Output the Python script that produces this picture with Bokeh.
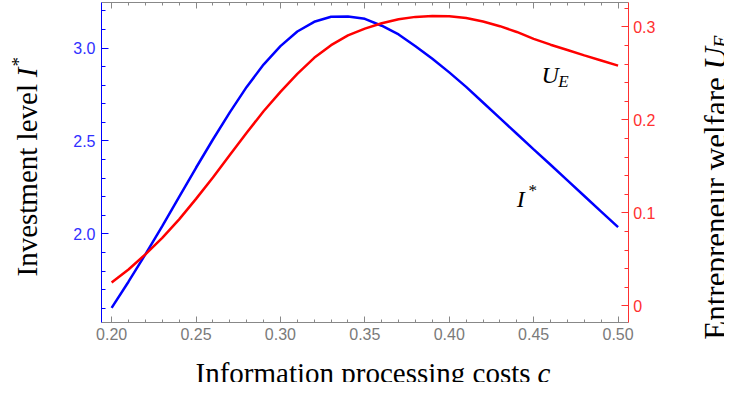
import math
from bokeh.plotting import figure
from bokeh.models import Range1d, LinearAxis, FixedTicker, NumeralTickFormatter, Label
from bokeh.embed import file_html
from bokeh.resources import INLINE

# ---------------- data ----------------
cost = [0.20, 0.21, 0.22, 0.23, 0.24, 0.25, 0.26, 0.27, 0.28, 0.29, 0.30,
        0.31, 0.32, 0.33, 0.34, 0.35, 0.36, 0.37, 0.38, 0.39, 0.40,
        0.41, 0.42, 0.43, 0.44, 0.45, 0.46, 0.47, 0.48, 0.49, 0.50]

investment = [1.602, 1.743, 1.890, 2.042, 2.199, 2.356, 2.508, 2.654, 2.791, 2.911, 3.010,
              3.089, 3.141, 3.168, 3.170, 3.157, 3.120, 3.073, 3.010, 2.942, 2.869,
              2.791, 2.707, 2.623, 2.539, 2.455, 2.372, 2.288, 2.204, 2.120, 2.037]

welfare = [0.0251, 0.0392, 0.0555, 0.0732, 0.0931, 0.1151, 0.1381, 0.1622, 0.1863, 0.2093, 0.2302,
           0.2496, 0.2668, 0.2804, 0.2909, 0.2982, 0.3040, 0.3082, 0.3108, 0.3118, 0.3115,
           0.3095, 0.3058, 0.3008, 0.2946, 0.2872, 0.2809, 0.2752, 0.2694, 0.2639, 0.2584]

x_ticks = [0.20, 0.25, 0.30, 0.35, 0.40, 0.45, 0.50]
x_tick_labels = ["0.20", "0.25", "0.30", "0.35", "0.40", "0.45", "0.50"]
inv_ticks = [2.0, 2.5, 3.0]
inv_tick_labels = ["2.0", "2.5", "3.0"]
wel_ticks = [0.0, 0.1, 0.2, 0.3]
wel_tick_labels = ["0", "0.1", "0.2", "0.3"]

x_minor = [round(0.20 + 0.01 * i, 2) for i in range(31)]
inv_minor = [round(1.6 + 0.1 * i, 1) for i in range(17)]
wel_minor = [round(0.02 * i, 2) for i in range(17)]

# plotted extents of the frame
X0, X1 = 0.194, 0.506
Y0, Y1 = 1.5236, 3.2476
U0, U1 = -0.0178, 0.3268

BLUE = "#0000ff"
RED = "#ff0000"
GRAY = "#888888"
SERIF = "Liberation Serif"
SANS = "Liberation Sans"

# ---------------- layout (canvas pixels) ----------------
W, H = 724, 382
FL, FR, FT, FB = 101.0, 627.7, 1.5, 322.0   # plot box on the canvas


def dx(px):   # canvas pixel -> x data
    return X0 + (px - FL) / (FR - FL) * (X1 - X0)


def dy(py):   # canvas pixel -> left-axis data
    return Y1 - (py - FT) / (FB - FT) * (Y1 - Y0)


def du(py):   # canvas pixel -> right-axis data
    return U1 - (py - FT) / (FB - FT) * (U1 - U0)


def fx(rx):   # reference-picture pixel -> canvas pixel
    return FL + (rx - 109.0) * (FR - FL) / (643.0 - 109.0)


def fy(ry):
    return FT + (ry - 2.7) * (FB - FT) / (332.0 - 2.7)


p = figure(width=W, height=H, output_backend="svg", toolbar_location=None,
           x_range=Range1d(dx(0), dx(W)), y_range=Range1d(dy(H), dy(0)),
           min_border=0, min_border_left=0, min_border_right=0,
           min_border_top=0, min_border_bottom=0,
           x_axis_type=None, y_axis_type=None, title=None)
p.extra_y_ranges = {"u": Range1d(du(H), du(0))}
p.outline_line_color = None
p.background_fill_color = "white"
p.border_fill_color = "#ffcccc"
p.xgrid.visible = False
p.ygrid.visible = False


def style_axis(ax, color, label_color, font_size="16px", standoff=6):
    ax.axis_line_color = color
    ax.axis_line_width = 1
    ax.major_tick_line_color = color
    ax.minor_tick_line_color = color
    ax.major_tick_in = 7
    ax.major_tick_out = 0
    ax.minor_tick_in = 4
    ax.minor_tick_out = 0
    ax.major_label_text_color = label_color
    ax.major_label_text_font = SANS
    ax.major_label_text_font_size = font_size
    ax.major_label_standoff = standoff
    ax.axis_label = None


xb = LinearAxis(ticker=FixedTicker(ticks=x_ticks, minor_ticks=x_minor),
                formatter=NumeralTickFormatter(format="0.00"),
                major_label_overrides=dict(zip(x_ticks, x_tick_labels)),
                fixed_location=Y0, bounds=(X0, X1))
style_axis(xb, GRAY, "#7a7a7a", standoff=5)
xb.major_tick_in = 6
xb.minor_tick_in = 3
p.add_layout(xb, "below")

xt = LinearAxis(ticker=FixedTicker(ticks=x_ticks, minor_ticks=x_minor),
                major_label_overrides={t: "" for t in x_ticks},
                fixed_location=Y1, bounds=(X0, X1))
style_axis(xt, GRAY, GRAY, font_size="0px", standoff=0)
xt.major_tick_in = 6
xt.minor_tick_in = 3
p.add_layout(xt, "above")

yl = LinearAxis(ticker=FixedTicker(ticks=inv_ticks, minor_ticks=inv_minor),
                formatter=NumeralTickFormatter(format="0.0"),
                major_label_overrides=dict(zip(inv_ticks, inv_tick_labels)),
                fixed_location=X0, bounds=(Y0, Y1))
style_axis(yl, BLUE, "#3030ff")
p.add_layout(yl, "left")

yr = LinearAxis(y_range_name="u", ticker=FixedTicker(ticks=wel_ticks, minor_ticks=wel_minor),
                formatter=NumeralTickFormatter(format="0.[0]"),
                major_label_overrides=dict(zip(wel_ticks, wel_tick_labels)),
                fixed_location=X1, bounds=(U0, U1))
style_axis(yr, "#ff3030", "#ff3030", standoff=5)
p.add_layout(yr, "right")

p.line(cost, investment, line_color=BLUE, line_width=2.5)
p.line(cost, welfare, y_range_name="u", line_color=RED, line_width=2.5)


def lab(rx, ry, text, size, style="normal", align="left", angle=0.0):
    p.add_layout(Label(x=dx(fx(rx)), y=dy(fy(ry)), text=text, text_font=SERIF,
                       text_font_size=size, text_font_style=style,
                       text_align=align, text_baseline="alphabetic",
                       text_color="black", angle=angle))


lab(544, 384, "Information processing costs", "29px", align="right")
lab(551, 384, "c", "29px", style="italic")

up = math.pi / 2
lab(33, 87, "Investment level", "29px", align="right", angle=up)
lab(33, 80, "I", "29px", style="italic", angle=up)
lab(25, 69, "*", "19px", angle=up)

lab(732, 80, "Entrepreneur welfare", "31px", align="right", angle=up)
lab(732, 72, "U", "31px", style="italic", angle=up)
lab(737, 50, "E", "21px", style="italic", angle=up)

lab(555, 78, "U", "24px", style="italic")
lab(572, 84, "E", "17px", style="italic")
lab(530, 205, "I", "24px", style="italic")
lab(542, 196, "*", "17px")

open("out.html", "w").write(file_html(p, INLINE))
